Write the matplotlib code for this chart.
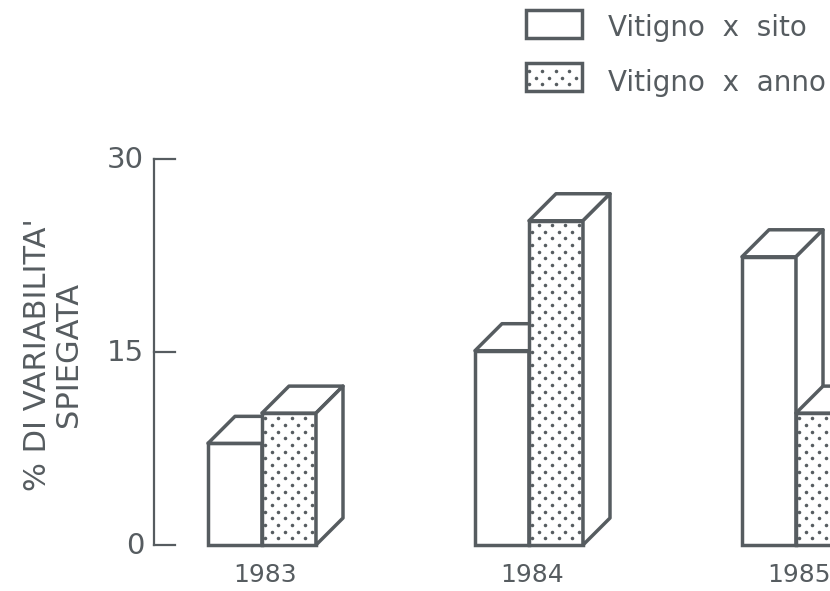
import numpy as np
import matplotlib.pyplot as plt
from matplotlib.patches import Polygon, Rectangle

plt.rcParams['font.family'] = ['DejaVu Sans']

# Values
years = ['1983', '1984', '1985']
vitigno_sito = [7.9, 15.1, 22.4]
vitigno_anno = [10.25, 25.2, 10.25]
y_ticks = [0, 15, 30]
legend_labels = ['Vitigno  x  sito', 'Vitigno  x  anno']

# Styles and layout, x in image pixels
INK = '#565c60'
LW = 2.5
left_edges = [208, 475, 742]
bar_w = 54
depth_x = 27
y_scale = 12.867  # pixels per percent
depth_y = depth_x / y_scale
dot_dx = 13.3
dot_dy = 6.67 / y_scale


def draw_box(ax, x, value, dotted=False):
    # front face from the value, then top and side faces shifted by the depth
    ax.bar(x, value, width=bar_w, align='edge', facecolor='white',
           edgecolor=INK, linewidth=LW, zorder=z_next())
    z = z_next()
    top = [(x, value), (x + depth_x, value + depth_y),
           (x + bar_w + depth_x, value + depth_y), (x + bar_w, value)]
    side = [(x + bar_w, value), (x + bar_w + depth_x, value + depth_y),
            (x + bar_w + depth_x, depth_y), (x + bar_w, 0)]
    for pts in (top, side):
        ax.add_patch(Polygon(pts, closed=True, facecolor='white', edgecolor=INK,
                             linewidth=LW, joinstyle='round', zorder=z))
    if dotted:
        draw_dots(ax, x, x + bar_w, 0, value, z_next())


def draw_dots(ax, x0, x1, y0, y1, z):
    # staggered dot screen, clipped to the rectangle
    xs, ys = [], []
    for i, y in enumerate(np.arange(y0 + dot_dy, y1 - dot_dy * 0.5, dot_dy)):
        offset = 0 if i % 2 == 0 else dot_dx / 2
        for x in np.arange(x0 + 3 + offset, x1 - 1, dot_dx):
            xs.append(x)
            ys.append(y)
    ax.scatter(xs, ys, s=6.5, color=INK, linewidths=0, zorder=z)


z_count = [2]


def z_next():
    z_count[0] += 1
    return z_count[0]


fig = plt.figure(figsize=(8.3, 5.91), dpi=100)
ax = fig.add_axes([0, 0, 1, 1])
ax.set_xlim(0, 830)
ax.set_ylim(-(591 - 545) / y_scale, 545 / y_scale)
ax.axis('off')

# y axis with ticks pointing towards the bars
ax.plot([154, 154], [y_ticks[0], y_ticks[-1]], color=INK, lw=1.6, zorder=1)
for t in y_ticks:
    ax.plot([154, 175], [t, t], color=INK, lw=1.6, zorder=1)
    ax.text(144, t - 0.08, str(t), ha='right', va='center', fontsize=21, color=INK)

ax.text(37, 14.77, "% DI VARIABILITA'", rotation=90, ha='center', va='center',
        fontsize=22, color=INK)
ax.text(68, 14.8, 'SPIEGATA', rotation=90, ha='center', va='center',
        fontsize=22, color=INK)

for i, year in enumerate(years):
    x = left_edges[i]
    draw_box(ax, x, vitigno_sito[i])
    draw_box(ax, x + bar_w, vitigno_anno[i], dotted=True)
    ax.text(x + 57, -2.3, year, ha='center', va='center', fontsize=18, color=INK)


# Legend drawn by hand, the reference has a wide gap between key and text
def y_px(p):
    return (545 - p) / y_scale


ax.add_patch(Rectangle((526, y_px(38)), 56, 28 / y_scale, facecolor='white',
                       edgecolor=INK, linewidth=LW, zorder=z_next()))
ax.add_patch(Rectangle((526, y_px(91)), 56, 28 / y_scale, facecolor='white',
                       edgecolor=INK, linewidth=LW, zorder=z_next()))
draw_dots(ax, 526, 582, y_px(91), y_px(63), z_next())
ax.text(608, y_px(28), legend_labels[0], ha='left', va='center', fontsize=20, color=INK)
ax.text(608, y_px(83), legend_labels[1], ha='left', va='center', fontsize=20, color=INK)

fig.savefig('out.png', dpi=100)
